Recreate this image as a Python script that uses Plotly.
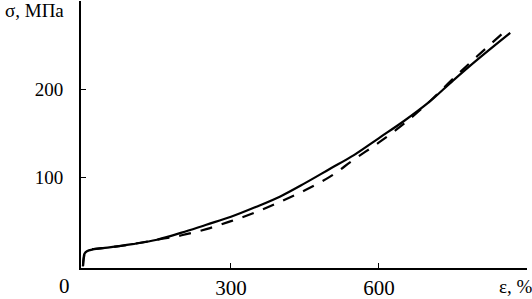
import plotly.graph_objects as go

# Solid curve (strain %, stress MPa)
eps_solid = [0, 1, 3, 8, 20, 50, 100, 150, 200, 250, 300, 350, 400, 450, 500, 550, 600, 650, 700, 750, 800, 866]
sig_solid = [0, 8, 14, 17, 19, 21, 25, 30, 38, 47, 56, 67, 79, 94, 110, 126, 145, 164, 185, 210, 234, 264]

# Dashed curve
eps_dash = [0, 2, 5, 15, 30, 50, 100, 150, 200, 250, 300, 350, 400, 450, 500, 550, 600, 650, 700, 750, 800, 862]
sig_dash = [0, 10, 16, 19, 20, 21, 25, 30, 35, 42, 51, 61, 73, 86, 101, 121, 140, 161, 185, 212, 238, 269]

x_ticks = [300, 600, 900]
x_ticktext = ["300", "600", ""]
y_ticks = [100, 200, 300]
y_ticktext = ["100", "200", ""]

FONT = "Liberation Serif"

fig = go.Figure()
fig.add_trace(go.Scatter(x=eps_solid, y=sig_solid, mode="lines", line=dict(color="black", width=2.2, shape="spline"), showlegend=False))
fig.add_trace(go.Scatter(x=eps_dash, y=sig_dash, mode="lines", line=dict(color="black", width=2.2, dash="12px,10px", shape="spline"), showlegend=False))

W, H = 532, 299
l, r, t, b = 81, 5, 1, 31

fig.update_layout(
    width=W, height=H,
    margin=dict(l=l, r=r, t=t, b=b),
    plot_bgcolor="white", paper_bgcolor="white",
    font=dict(family=FONT, size=19, color="black"),
    xaxis=dict(range=[-4, 900], showgrid=False, zeroline=False, showline=True, linecolor="black", linewidth=2,
               ticks="inside", ticklen=5, tickwidth=1, tickcolor="black", automargin=False,
               tickvals=x_ticks, ticktext=x_ticktext, ticklabelstandoff=0,
               tickfont=dict(family=FONT, size=21)),
    yaxis=dict(range=[-2, 300], showgrid=False, zeroline=False, showline=True, linecolor="black", linewidth=2,
               ticks="inside", ticklen=5, tickwidth=1, tickcolor="black", automargin=False,
               tickvals=y_ticks, ticktext=y_ticktext, ticklabelstandoff=12,
               tickfont=dict(family=FONT, size=19)),
)

pw, ph = W - l - r, H - t - b
def ann(text, px, py, size):
    return dict(text=text, xref="paper", yref="paper", x=(px - l) / pw, y=1 - (py - t) / ph,
                xanchor="center", yanchor="middle", showarrow=False, font=dict(family=FONT, size=size))

fig.update_layout(annotations=[
    ann("0", 64, 286, 21),
    ann("ε, %", 515, 286, 19),
    ann("σ, МПа", 34, 11, 19),
])

fig.write_html("out.html", config={"displayModeBar": False},
               post_script="document.body.style.margin='0';document.body.style.padding='0';")
